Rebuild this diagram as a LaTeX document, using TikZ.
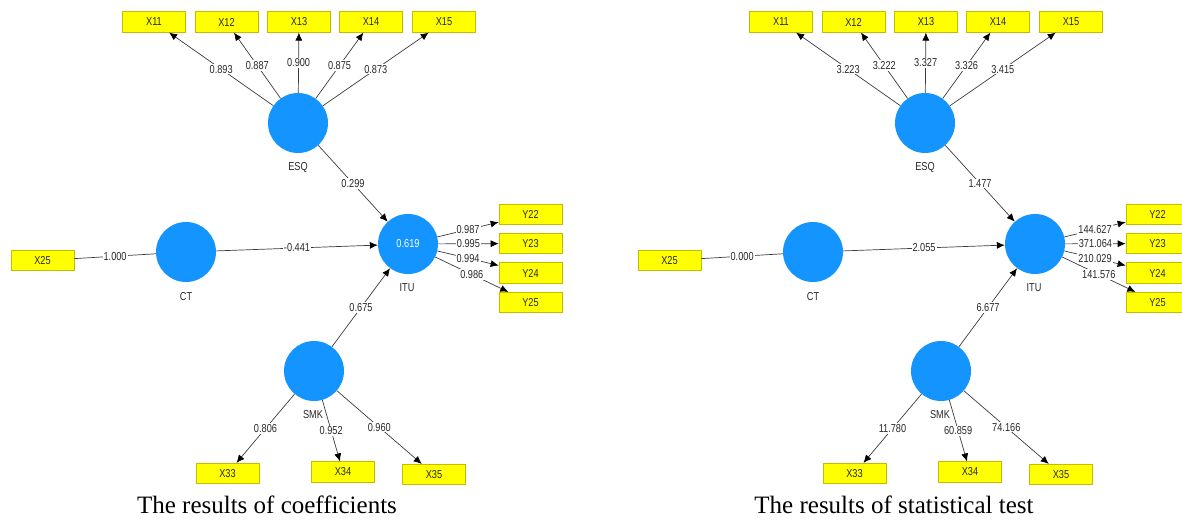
\documentclass[tikz,border=0pt]{standalone}
\usepackage{fontspec}
\setmainfont{Liberation Serif}
\newfontfamily\labfont[FakeStretch=0.8]{Liberation Sans}
\usetikzlibrary{arrows.meta}
\definecolor{plsblue}{RGB}{20,148,255}
\definecolor{boxyellow}{RGB}{255,255,0}
\definecolor{boxedge}{RGB}{196,188,0}
\definecolor{linegray}{RGB}{60,60,60}
\definecolor{txtgray}{RGB}{40,40,40}
\begin{document}
\begin{tikzpicture}[x=1pt,y=-1pt,
  ind/.style={draw=boxedge,fill=boxyellow,line width=0.7pt,minimum width=63pt,minimum height=20.5pt,inner sep=0pt,font=\labfont\fontsize{11.5}{13}\selectfont,text=txtgray},
  lat/.style={circle,fill=plsblue,minimum size=60pt,inner sep=0pt,font=\labfont\fontsize{11.5}{13}\selectfont,text=white},
  lvname/.style={font=\labfont\fontsize{11.5}{13}\selectfont,text=txtgray,inner sep=1pt},
  conn/.style={draw=linegray,line width=0.7pt},
  arr/.style={conn,-{Latex[length=8pt,width=7pt,color=black]}},
  coef/.style={fill=white,inner sep=1pt,font=\labfont\fontsize{11.5}{13}\selectfont,text=txtgray},
  captext/.style={font=\fontsize{25}{30}\selectfont,anchor=base,inner sep=0pt}
]
\useasboundingbox (0,0) rectangle (1182,519);

% ---------------- left panel ----------------
\begin{scope}[name prefix=L-]
\node[ind] (X11) at (154,22) {X11};
\node[ind] (X12) at (226.5,22) {X12};
\node[ind] (X13) at (299,22) {X13};
\node[ind] (X14) at (371,22) {X14};
\node[ind] (X15) at (444,22) {X15};
\node[lat] (ESQ) at (298,123) {};
\node[lvname] (ESQn) at (298,168) {ESQ};
\node[lat] (CT) at (186,252) {};
\node[lvname] (CTn) at (186,297) {CT};
\node[lat] (ITU) at (408,244) {0.619};
\node[lvname] (ITUn) at (407,288) {ITU};
\node[lat] (SMK) at (314,371) {};
\node[lvname] (SMKn) at (313,415) {SMK};
\node[ind] (X25) at (42.5,260.5) {X25};
\node[ind] (Y22) at (530.5,214.5) {Y22};
\node[ind] (Y23) at (530.5,243.5) {Y23};
\node[ind] (Y24) at (530.5,273) {Y24};
\node[ind] (Y25) at (530.5,302.5) {Y25};
\node[ind] (X33) at (227.5,473.5) {X33};
\node[ind] (X34) at (343,472) {X34};
\node[ind] (X35) at (434,474.5) {X35};
\draw[arr] (ESQ) -- node[coef]{0.893} (X11);
\draw[arr] (ESQ) -- node[coef]{0.887} (X12);
\draw[arr] (ESQ) -- node[coef]{0.900} (X13);
\draw[arr] (ESQ) -- node[coef]{0.875} (X14);
\draw[arr] (ESQ) -- node[coef]{0.873} (X15);
\draw[arr] (ESQ) -- node[coef]{0.299} (ITU);
\draw[arr] (CT) -- node[coef]{-0.441} (ITU);
\draw[conn] (X25) -- node[coef]{1.000} (CT);
\draw[arr] (SMK) -- node[coef]{0.675} (ITU);
\draw[arr] (SMK) -- node[coef]{0.806} (X33);
\draw[arr] (SMK) -- node[coef]{0.952} (X34);
\draw[arr] (SMK) -- node[coef]{0.960} (X35);
\draw[arr] (ITU) -- node[coef]{0.987} (Y22);
\draw[arr] (ITU) -- node[coef]{0.995} (Y23);
\draw[arr] (ITU) -- node[coef]{0.994} (Y24);
\draw[arr] (ITU) -- node[coef]{0.986} (Y25);
\node[captext] (caption) at (267,513) {The results of coefficients};
\end{scope}

% ---------------- right panel ----------------
\begin{scope}[name prefix=R-,xshift=627pt]
\node[ind] (X11) at (154,22) {X11};
\node[ind] (X12) at (226.5,22) {X12};
\node[ind] (X13) at (299,22) {X13};
\node[ind] (X14) at (371,22) {X14};
\node[ind] (X15) at (444,22) {X15};
\node[lat] (ESQ) at (298,123) {};
\node[lvname] (ESQn) at (298,168) {ESQ};
\node[lat] (CT) at (186,252) {};
\node[lvname] (CTn) at (186,297) {CT};
\node[lat] (ITU) at (408,244) {};
\node[lvname] (ITUn) at (407,288) {ITU};
\node[lat] (SMK) at (314,371) {};
\node[lvname] (SMKn) at (313,415) {SMK};
\node[ind] (X25) at (42.5,260.5) {X25};
\node[ind] (Y22) at (530.5,214.5) {Y22};
\node[ind] (Y23) at (530.5,243.5) {Y23};
\node[ind] (Y24) at (530.5,273) {Y24};
\node[ind] (Y25) at (530.5,302.5) {Y25};
\node[ind] (X33) at (227.5,473.5) {X33};
\node[ind] (X34) at (343,472) {X34};
\node[ind] (X35) at (434,474.5) {X35};
\draw[arr] (ESQ) -- node[coef]{3.223} (X11);
\draw[arr] (ESQ) -- node[coef]{3.222} (X12);
\draw[arr] (ESQ) -- node[coef]{3.327} (X13);
\draw[arr] (ESQ) -- node[coef]{3.326} (X14);
\draw[arr] (ESQ) -- node[coef]{3.415} (X15);
\draw[arr] (ESQ) -- node[coef]{1.477} (ITU);
\draw[arr] (CT) -- node[coef]{2.055} (ITU);
\draw[conn] (X25) -- node[coef]{0.000} (CT);
\draw[arr] (SMK) -- node[coef]{6.677} (ITU);
\draw[arr] (SMK) -- node[coef]{11.780} (X33);
\draw[arr] (SMK) -- node[coef]{60.859} (X34);
\draw[arr] (SMK) -- node[coef]{74.166} (X35);
\draw[arr] (ITU) -- node[coef]{144.627} (Y22);
\draw[arr] (ITU) -- node[coef]{371.064} (Y23);
\draw[arr] (ITU) -- node[coef]{210.029} (Y24);
\draw[arr] (ITU) -- node[coef]{141.576} (Y25);
\node[captext] (caption) at (267,513) {The results of statistical test};
\end{scope}
\end{tikzpicture}
\end{document}
